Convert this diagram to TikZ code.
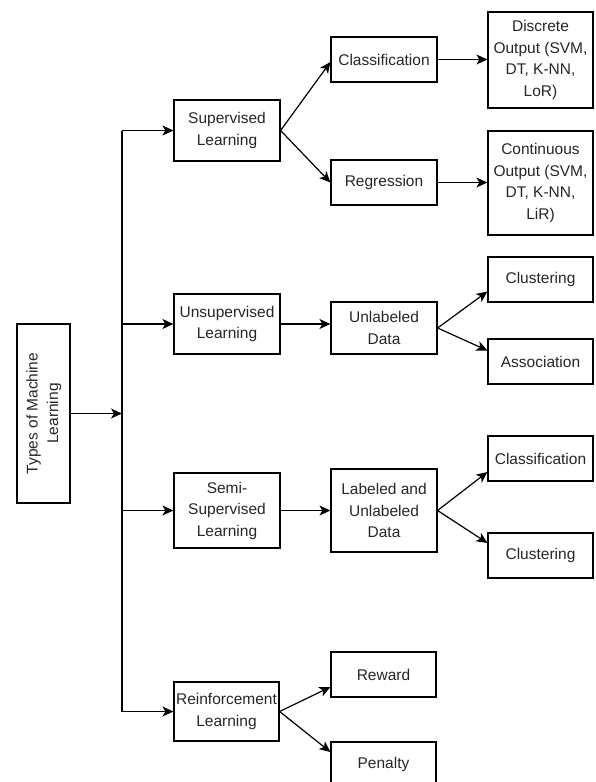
\documentclass[tikz,border=0pt]{standalone}
\usepackage{fontspec}
\setmainfont{Liberation Sans}
\usetikzlibrary{arrows.meta}
\definecolor{txt}{gray}{0.15}
\begin{document}
\begin{tikzpicture}[x=1pt,y=-1pt,
  box/.style={draw,line width=1.2pt,align=center,inner sep=0pt,text=txt,
    font=\fontsize{15.5}{21.5}\selectfont},
  arr/.style={line width=1.2pt,-{Stealth[length=11pt,width=10pt,inset=3pt]}},
  ln/.style={line width=1.2pt}]
\useasboundingbox (0,0) rectangle (595,782);
\clip (0,0) rectangle (595,782);
% root
\node[box,minimum width=53pt,minimum height=179pt] (tml) at (43.5,413.5)
  {\rotatebox{90}{\begin{tabular}{@{}c@{}}Types of Machine\\[-1pt]Learning\end{tabular}}};
% second level
\node[box,minimum width=106pt,minimum height=61pt] (sup) at (227,130.5) {Supervised\\Learning};
\node[box,minimum width=106pt,minimum height=60pt] (usl) at (227,324) {Unsupervised\\Learning};
\node[box,minimum width=106pt,minimum height=75pt] (ssl) at (227,510.5) {Semi-\\Supervised\\Learning};
\node[box,minimum width=105pt,minimum height=59pt] (rl) at (226.5,711.5) {Reinforcement\\Learning};
% third level
\node[box,minimum width=106pt,minimum height=45pt] (cls) at (384,59.5) {Classification};
\node[box,minimum width=106pt,minimum height=45pt] (reg) at (384,182.5) {Regression};
\node[box,minimum width=106pt,minimum height=52pt] (uld) at (384,328) {Unlabeled\\Data};
\node[box,minimum width=106pt,minimum height=83pt] (lud) at (384,510.5) {Labeled and\\Unlabeled\\Data};
\node[box,minimum width=105pt,minimum height=45pt] (rew) at (383.5,674.5) {Reward};
\node[box,minimum width=105pt,minimum height=45pt] (pen) at (383.5,764.5) {Penalty};
% fourth level
\node[box,minimum width=105pt,minimum height=96pt] (dis) at (540.5,60) {Discrete\\Output (SVM,\\DT, K-NN,\\LoR)};
\node[box,minimum width=105pt,minimum height=104pt] (con) at (540.5,183) {Continuous\\Output (SVM,\\DT, K-NN,\\LiR)};
\node[box,minimum width=105pt,minimum height=45pt] (clu) at (540.5,279.5) {Clustering};
\node[box,minimum width=105pt,minimum height=45pt] (ass) at (540.5,361.5) {Association};
\node[box,minimum width=105pt,minimum height=45pt] (cl2) at (540.5,458.5) {Classification};
\node[box,minimum width=105pt,minimum height=45pt] (cu2) at (540.5,555.5) {Clustering};
% bus
\coordinate (bt) at (122,130.5);
\coordinate (bb) at (122,711.5);
\draw[ln] (bt) -- (bb);
\draw[arr] (tml.east) -- (tml.east -| bt);
\draw[arr] (bt) -- (sup.west);
\draw[arr] (bt |- usl.west) -- (usl.west);
\draw[arr] (bt |- ssl.west) -- (ssl.west);
\draw[arr] (bb) -- (rl.west);
% supervised
\draw[arr] (sup.east) -- ([yshift=-2.5pt]cls.west);
\draw[arr] (sup.east) -- (reg.west);
\draw[arr] (cls.east) -- (cls.east -| dis.west);
\draw[arr] (reg.east) -- (reg.east -| con.west);
% unsupervised
\draw[arr] (usl.east) -- (usl.east -| uld.west);
\draw[arr] (uld.east) -- ([yshift=-12pt]clu.west);
\draw[arr] (uld.east) -- ([yshift=11pt]ass.west);
% semi
\draw[arr] (ssl.east) -- (ssl.east -| lud.west);
\draw[arr] (lud.east) -- ([yshift=-13.5pt]cl2.west);
\draw[arr] (lud.east) -- ([yshift=12.5pt]cu2.west);
% reinforcement
\draw[arr] (rl.east) -- ([yshift=-12.5pt]rew.west);
\draw[arr] (rl.east) -- ([yshift=12.5pt]pen.west);
\end{tikzpicture}
\end{document}
